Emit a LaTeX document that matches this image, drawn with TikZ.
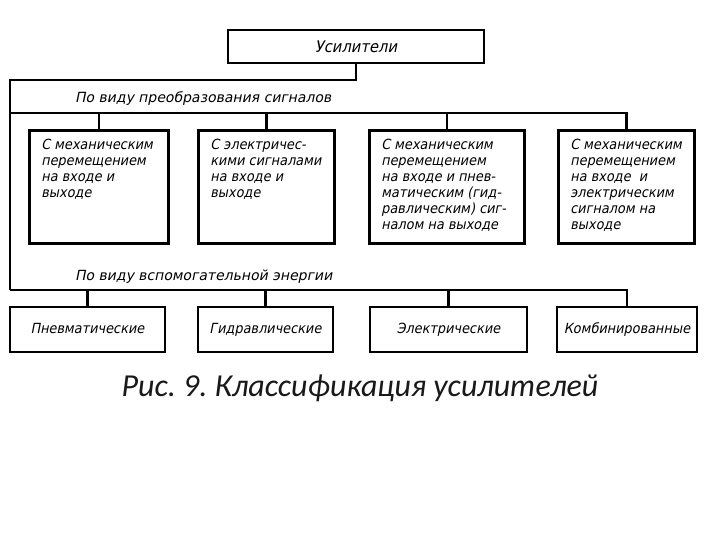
\documentclass[tikz,border=0pt]{standalone}
\usepackage{fontspec}
\setmainfont{Carlito}
\newfontfamily\gostfont[FakeSlant=0.2,FakeStretch=0.92]{DejaVu Sans}
\newfontfamily\gostwide[FakeSlant=0.2]{DejaVu Sans}
\usetikzlibrary{positioning}
\frenchspacing
\tikzset{
  every picture/.style={line join=miter},
  box/.style={draw, line width=2.8pt, inner sep=0pt,
    font=\gostfont\fontsize{14}{16}\selectfont},
  midbox/.style={box, anchor=north west, inner xsep=12pt, inner ysep=8pt},
  lowbox/.style={box, minimum height=45pt, text height=10pt, text depth=3pt},
  link/.style={line width=2.4pt},
  grouptitle/.style={anchor=base west, inner sep=0pt,
    font=\gostwide\fontsize{14}{16}\selectfont},
}
\newcommand\boxlines[2]{\parbox[t][97pt][t]{#1}{\begin{tabular}[t]{@{}l@{}}#2\end{tabular}}}

\begin{document}
\begin{tikzpicture}[x=1pt,y=-1pt]
\useasboundingbox (0,0) rectangle (720,540);
% head
\node[box, minimum width=256pt, minimum height=33pt, font=\gostfont\fontsize{16}{18}\selectfont] (amp) at (356,46.5) {Усилители};
\coordinate (turn) at (10,80);
\coordinate (busA) at (10,113);
\coordinate (busB) at (10,290);
\draw[link] (amp.south) |- (turn) -- (busB);
% signal conversion
\node[grouptitle] (titleA) at (75,103) {По виду преобразования сигналов};
\node[midbox] (m1) at (28,129) {\boxlines{115pt}{С механическим\\ перемещением\\ на входе и\\ выходе}};
\node[midbox] (m2) at (197,129) {\boxlines{112pt}{С электричес-\\ кими сигналами\\ на входе и\\ выходе}};
\node[midbox] (m3) at (368,129) {\boxlines{131pt}{С механическим\\ перемещением\\ на входе и пнев-\\ матическим (гид-\\ равлическим) сиг-\\ налом на выходе}};
\node[midbox] (m4) at (557,129) {\boxlines{112pt}{С механическим\\ перемещением\\ на входе~ и\\ электрическим\\ сигналом на\\ выходе}};
\draw[link] (busA) -| (m4.north);
\foreach \n in {m1,m2,m3}
  \draw[link] (\n.north |- busA) -- (\n.north);
% auxiliary energy
\node[grouptitle] (titleB) at (75,280) {По виду вспомогательной энергии};
\node[lowbox, minimum width=155pt] (e1) at (87.5,329.5) {Пневматические};
\node[lowbox, minimum width=135pt] (e2) at (265.5,329.5) {Гидравлические};
\node[lowbox, minimum width=157pt] (e3) at (448.5,329.5) {Электрические};
\node[lowbox, minimum width=140pt] (e4) at (627,329.5) {Комбинированные};
\draw[link] (busB) -| (e4.north);
\foreach \n in {e1,e2,e3}
  \draw[link] (\n.north |- busB) -- (\n.north);
% caption
\node[font=\itshape\fontsize{32}{38}\selectfont, text=black!90] (caption) at (360,388) {Рис. 9. Классификация усилителей};
\end{tikzpicture}
\end{document}
